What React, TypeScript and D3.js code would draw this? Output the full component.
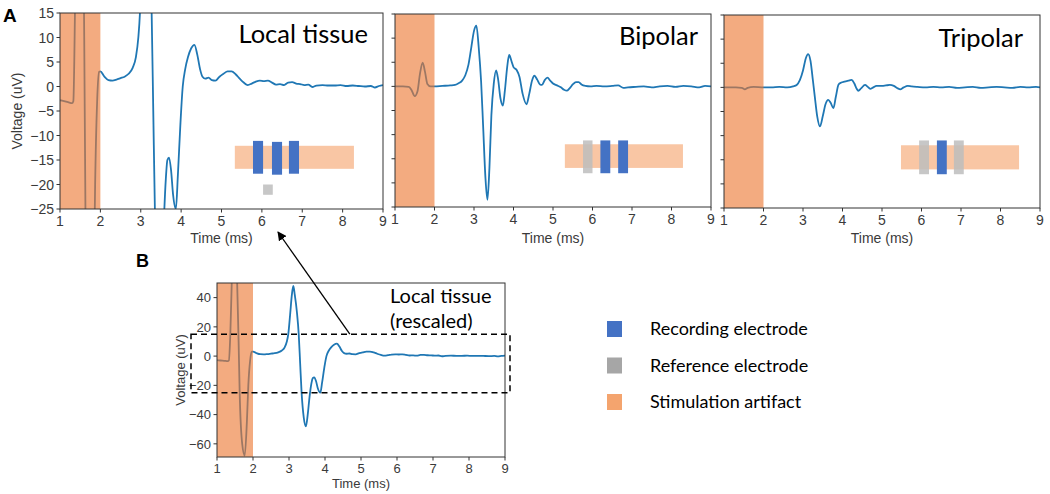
import React from "react";
import * as d3 from "d3";

// ---------- DATA ----------
const TIME_TICKS = [1, 2, 3, 4, 5, 6, 7, 8, 9];
const A_VOLT_TICKS = [-25, -20, -15, -10, -5, 0, 5, 10, 15];
const B_VOLT_TICKS = [-60, -40, -20, 0, 20, 40];
const ARTIFACT_WINDOW = [1, 2];
const ZOOM_BOX = [-25, 15];

const LOCAL_TISSUE: [number, number][] = [
  [1.0, -2.8], [1.1, -3.0], [1.2, -3.2], [1.3, -3.4], [1.33, -3.0], [1.37, 15], [1.42, 60],
  [1.48, 110], [1.55, 60], [1.6, 10], [1.63, -25], [1.7, -60], [1.77, -68], [1.83, -45],
  [1.87, -20], [1.92, -3], [1.97, 3.0], [2.0, 3.1], [2.1, 2.0], [2.2, 1.3], [2.3, 1.2],
  [2.4, 1.4], [2.5, 1.7], [2.6, 2.0], [2.7, 2.6], [2.8, 3.8], [2.88, 6], [2.94, 10],
  [2.98, 15], [3.03, 28], [3.08, 42], [3.12, 48], [3.16, 42], [3.22, 30], [3.27, 15],
  [3.31, -5], [3.35, -25], [3.41, -42], [3.47, -48], [3.52, -40], [3.57, -28], [3.62, -19],
  [3.66, -15], [3.7, -14.5], [3.75, -17], [3.8, -22], [3.87, -25], [3.92, -18], [3.98, -8],
  [4.04, 0], [4.1, 3.5], [4.17, 6.0], [4.25, 7.8], [4.33, 8.5], [4.4, 6.5], [4.47, 3.5],
  [4.53, 2.0], [4.6, 1.6], [4.68, 1.8], [4.76, 1.3], [4.85, 1.2], [4.95, 2.0], [5.05, 2.6],
  [5.15, 3.1], [5.25, 3.1], [5.35, 2.5], [5.45, 1.6], [5.55, 0.8], [5.65, 0.3], [5.75, 0.6],
  [5.85, 1.0], [5.95, 1.2], [6.05, 1.1], [6.15, 1.2], [6.25, 0.8], [6.35, 0.4], [6.45, 0.5],
  [6.55, 0.3], [6.65, 0.8], [6.75, 0.9], [6.85, 0.6], [6.95, 0.5], [7.05, 0.3], [7.15, 0.4],
  [7.25, -0.1], [7.35, 0.2], [7.5, 0.3], [7.65, 0.2], [7.8, 0.2], [7.95, 0.3], [8.1, 0.1],
  [8.25, 0.2], [8.4, 0.1], [8.55, 0.0], [8.7, 0.1], [8.8, -0.2], [8.9, 0.1], [9.0, 0.3],
];

const BIPOLAR: [number, number][] = [
  [1.0, 0], [1.2, 0], [1.35, -0.1], [1.42, -0.8], [1.5, -2.0], [1.57, -1.0], [1.63, 2.5],
  [1.7, 4.9], [1.76, 3.0], [1.82, 0.5], [1.9, 0], [2.0, 0], [2.2, 0.1], [2.4, 0.2],
  [2.52, 0.3], [2.6, 0.6], [2.7, 1.2], [2.78, 2.3], [2.86, 4.5], [2.93, 8], [3.0, 11.5],
  [3.06, 12.6], [3.12, 8], [3.18, 1], [3.23, -8], [3.29, -19], [3.34, -23.5], [3.39, -17],
  [3.44, -6], [3.5, 0.5], [3.56, 3.3], [3.61, 1.5], [3.67, -2.5], [3.73, -4.0], [3.78, -1],
  [3.84, 4], [3.89, 6.5], [3.95, 5.2], [4.0, 4.0], [4.08, 3.4], [4.15, 2.0], [4.23, -1.5],
  [4.33, -3.7], [4.4, -1.5], [4.47, 1.2], [4.53, 2.2], [4.6, 1.4], [4.67, 0.4], [4.72, 0.3],
  [4.79, 1.3], [4.86, 1.8], [4.93, 1.2], [5.0, 0.6], [5.1, 0.2], [5.2, -0.2], [5.28, -0.7],
  [5.35, -0.9], [5.42, -0.4], [5.5, 0.4], [5.58, 0.9], [5.65, 0.9], [5.72, 0.4], [5.82, 0.1],
  [5.95, 0], [6.1, 0.1], [6.3, 0], [6.5, 0.1], [6.65, 0.2], [6.78, -0.3], [6.9, -0.2],
  [7.1, -0.1], [7.3, 0], [7.5, -0.2], [7.7, 0], [7.9, 0.1], [8.1, -0.1], [8.3, 0.1],
  [8.5, 0], [8.7, -0.2], [8.85, 0.1], [9.0, 0],
];

const TRIPOLAR: [number, number][] = [
  [1.0, 0], [1.3, 0], [1.45, -0.1], [1.53, -0.4], [1.6, -0.1], [1.75, 0.1], [2.0, 0],
  [2.2, 0], [2.4, 0.1], [2.6, 0], [2.75, 0.2], [2.84, 0.5], [2.92, 1.5], [3.0, 3.5],
  [3.07, 6], [3.13, 6.9], [3.19, 5.5], [3.25, 1.5], [3.3, -2], [3.36, -6], [3.43, -8.1],
  [3.5, -6], [3.57, -3.5], [3.64, -2.6], [3.7, -3.2], [3.77, -4.3], [3.83, -2], [3.9, 0.6],
  [3.97, 1.0], [4.05, 1.2], [4.15, 1.4], [4.23, 1.55], [4.3, 0.8], [4.36, -0.3], [4.4, -0.7],
  [4.47, -0.2], [4.57, 0.5], [4.64, 0.1], [4.7, -0.3], [4.78, 0], [4.86, 0.3], [5.0, 0.3],
  [5.1, 0.4], [5.2, 0.5], [5.3, 0.3], [5.4, -0.2], [5.46, -0.4], [5.55, 0], [5.65, 0.3],
  [5.75, 0.2], [5.9, 0.1], [6.1, 0], [6.3, 0.1], [6.5, 0], [6.7, 0.1], [6.9, -0.1],
  [7.1, 0], [7.3, 0.1], [7.5, -0.1], [7.7, 0], [7.9, 0.1], [8.1, 0], [8.3, -0.1],
  [8.5, 0.1], [8.7, 0], [8.9, 0.1], [9.0, 0],
];

// electrode sketches, in each panel's own data units: [x0, x1, y0, y1]
type Elec = { x0: number; x1: number; y0: number; y1: number; kind: "rec" | "ref" };
const LOCAL_TISSUE_BAR = [5.33, 8.28, -12.1, -16.8];
const LOCAL_ELECTRODES: Elec[] = [
  { x0: 5.78, x1: 6.03, y0: -11.1, y1: -17.8, kind: "rec" },
  { x0: 6.25, x1: 6.5, y0: -11.3, y1: -18.0, kind: "rec" },
  { x0: 6.67, x1: 6.92, y0: -11.1, y1: -17.8, kind: "rec" },
  { x0: 6.03, x1: 6.27, y0: -20.0, y1: -22.1, kind: "ref" },
];
const BIPOLAR_TISSUE_BAR = [5.3, 8.29, -12.0, -16.9];
const BIPOLAR_ELECTRODES: Elec[] = [
  { x0: 5.76, x1: 6.0, y0: -11.2, y1: -18.0, kind: "ref" },
  { x0: 6.2, x1: 6.45, y0: -11.2, y1: -18.0, kind: "rec" },
  { x0: 6.65, x1: 6.9, y0: -11.2, y1: -18.0, kind: "rec" },
];
const TRIPOLAR_TISSUE_BAR = [5.48, 8.47, -12.0, -17.0];
const TRIPOLAR_ELECTRODES: Elec[] = [
  { x0: 5.94, x1: 6.19, y0: -11.0, y1: -18.0, kind: "ref" },
  { x0: 6.39, x1: 6.64, y0: -11.0, y1: -18.0, kind: "rec" },
  { x0: 6.82, x1: 7.07, y0: -11.0, y1: -18.0, kind: "ref" },
];

const LEGEND_LABELS = ["Recording electrode", "Reference electrode", "Stimulation artifact"];

// ---------- STYLE ----------
const BLUE = "#1f77b4";
const SHADE = "rgb(236,120,50)";
const SHADE_OP = 0.62;
const TISSUE = "#f9c6a4";
const REC = "#4472c4";
const REF = "#bdbdbd";
const AXIS = "#333";
const TICKTXT = "#3a3a3a";
const SANS = "'Liberation Sans', Arial, sans-serif";
const TITLEF = "Lato, 'Open Sans', sans-serif";

type PanelProps = {
  id: string;
  left: number;
  right: number;
  top: number;
  bottom: number;
  yDomain: [number, number];
  yTicks: number[];
  showYLabels: boolean;
  data: [number, number][];
  fs: number;
  ylabelX?: number;
  xlabelDy: number;
  tissue?: number[];
  electrodes?: Elec[];
  children?: (x: d3.ScaleLinear<number, number>, y: d3.ScaleLinear<number, number>) => React.ReactNode;
};

function Panel(p: PanelProps) {
  const x = d3.scaleLinear().domain([1, 9]).range([p.left, p.right]);
  const y = d3.scaleLinear().domain(p.yDomain).range([p.bottom, p.top]);
  const line = d3
    .line<[number, number]>()
    .x((d) => x(d[0]))
    .y((d) => y(d[1]))
    .curve(d3.curveMonotoneX);
  const clip = `clip-${p.id}`;
  const fmt = (v: number) => (v < 0 ? "\u2212" + Math.abs(v) : String(v));
  return (
    <g>
      <defs>
        <clipPath id={clip}>
          <rect x={p.left} y={p.top} width={p.right - p.left} height={p.bottom - p.top} />
        </clipPath>
      </defs>
      <g clipPath={`url(#${clip})`}>
        <path d={line(p.data) || ""} fill="none" stroke={BLUE} strokeWidth={1.8} />
        <rect
          x={x(ARTIFACT_WINDOW[0])}
          y={p.top}
          width={x(ARTIFACT_WINDOW[1]) - x(ARTIFACT_WINDOW[0])}
          height={p.bottom - p.top}
          fill={SHADE}
          opacity={SHADE_OP}
        />
        {p.tissue && (
          <rect
            x={x(p.tissue[0])}
            y={y(p.tissue[2])}
            width={x(p.tissue[1]) - x(p.tissue[0])}
            height={y(p.tissue[3]) - y(p.tissue[2])}
            fill={TISSUE}
          />
        )}
        {p.electrodes &&
          p.electrodes.map((e, i) => (
            <rect
              key={i}
              x={x(e.x0)}
              y={y(e.y0)}
              width={x(e.x1) - x(e.x0)}
              height={y(e.y1) - y(e.y0)}
              fill={e.kind === "rec" ? REC : REF}
              opacity={e.kind === "rec" ? 1 : 0.85}
            />
          ))}
      </g>
      <rect
        x={p.left}
        y={p.top}
        width={p.right - p.left}
        height={p.bottom - p.top}
        fill="none"
        stroke={AXIS}
        strokeWidth={1}
      />
      {TIME_TICKS.map((t) => (
        <g key={"x" + t}>
          <line x1={x(t)} x2={x(t)} y1={p.bottom} y2={p.bottom + 3.5} stroke={AXIS} />
          <text
            x={x(t)}
            y={p.bottom + p.fs + 3}
            textAnchor="middle"
            fontFamily={SANS}
            fontSize={p.fs}
            fill={TICKTXT}
          >
            {t}
          </text>
        </g>
      ))}
      {p.yTicks.map((v) => (
        <g key={"y" + v}>
          <line x1={p.left - 3.5} x2={p.left} y1={y(v)} y2={y(v)} stroke={AXIS} />
          {p.showYLabels && (
            <text
              x={p.left - 6}
              y={y(v)}
              dy="0.36em"
              textAnchor="end"
              fontFamily={SANS}
              fontSize={p.fs}
              fill={TICKTXT}
            >
              {fmt(v)}
            </text>
          )}
        </g>
      ))}
      <text
        x={(p.left + p.right) / 2}
        y={p.bottom + p.xlabelDy}
        textAnchor="middle"
        fontFamily={SANS}
        fontSize={p.fs}
        fill={TICKTXT}
      >
        Time (ms)
      </text>
      {p.ylabelX !== undefined && (
        <text
          transform={`translate(${p.ylabelX},${(p.top + p.bottom) / 2}) rotate(-90)`}
          textAnchor="middle"
          dy="0.35em"
          fontFamily={SANS}
          fontSize={p.fs}
          fill={TICKTXT}
        >
          Voltage (uV)
        </text>
      )}
      {p.children && p.children(x, y)}
    </g>
  );
}

export default function App() {
  const legendColors = [REC, "#a6a6a6", "#f4a46e"];
  return (
    <svg
      width={1050}
      height={494}
      style={{ position: "absolute", left: 0, top: 0, background: "#fff" }}
    >
      <defs>
        <marker id="arrowhead" viewBox="0 0 10 10" refX={9} refY={5} markerWidth={7} markerHeight={7} orient="auto">
          <path d="M0,0 L10,5 L0,10 z" fill="#000" />
        </marker>
      </defs>
      <rect width={1050} height={494} fill="#fff" />

      <Panel
        id="a1"
        left={60}
        right={383}
        top={13}
        bottom={209}
        yDomain={[-25, 15]}
        yTicks={A_VOLT_TICKS}
        showYLabels
        data={LOCAL_TISSUE}
        fs={14}
        ylabelX={17}
        xlabelDy={34}
        tissue={LOCAL_TISSUE_BAR}
        electrodes={LOCAL_ELECTRODES}
      />
      <Panel
        id="a2"
        left={395}
        right={711}
        top={14}
        bottom={207}
        yDomain={[-25, 15]}
        yTicks={A_VOLT_TICKS}
        showYLabels={false}
        data={BIPOLAR}
        fs={14}
        xlabelDy={36}
        tissue={BIPOLAR_TISSUE_BAR}
        electrodes={BIPOLAR_ELECTRODES}
      />
      <Panel
        id="a3"
        left={724}
        right={1040}
        top={15}
        bottom={208}
        yDomain={[-25, 15]}
        yTicks={A_VOLT_TICKS}
        showYLabels={false}
        data={TRIPOLAR}
        fs={14}
        xlabelDy={35}
        tissue={TRIPOLAR_TISSUE_BAR}
        electrodes={TRIPOLAR_ELECTRODES}
      />
      <Panel
        id="b"
        left={217}
        right={505}
        top={283}
        bottom={457}
        yDomain={[-69, 50]}
        yTicks={B_VOLT_TICKS}
        showYLabels
        data={LOCAL_TISSUE}
        fs={13}
        ylabelX={180}
        xlabelDy={31}
      >
        {(x, y) => (
          <g>
            <rect
              x={191}
              y={y(ZOOM_BOX[1])}
              width={510 - 191}
              height={y(ZOOM_BOX[0]) - y(ZOOM_BOX[1])}
              fill="none"
              stroke="#000"
              strokeWidth={1.5}
              strokeDasharray="6,4"
            />
            <line
              x1={x(4.69)}
              y1={y(ZOOM_BOX[1])}
              x2={278}
              y2={232}
              stroke="#000"
              strokeWidth={1.3}
              markerEnd="url(#arrowhead)"
            />
          </g>
        )}
      </Panel>

      {/* titles */}
      <text x={368} y={43} textAnchor="end" fontFamily={TITLEF} fontSize={25.5} fill="#000">
        Local tissue
      </text>
      <text x={698} y={45} textAnchor="end" fontFamily={TITLEF} fontSize={25.5} fill="#000">
        Bipolar
      </text>
      <text x={1023} y={47} textAnchor="end" fontFamily={TITLEF} fontSize={25.5} fill="#000">
        Tripolar
      </text>
      <text x={390} y={303} fontFamily={TITLEF} fontSize={20} fill="#000">
        Local tissue
      </text>
      <text x={390} y={328} fontFamily={TITLEF} fontSize={20} fill="#000">
        (rescaled)
      </text>

      {/* panel letters */}
      <text x={3} y={22} fontFamily={SANS} fontWeight="bold" fontSize={19} fill="#000">
        A
      </text>
      <text x={136} y={267} fontFamily={SANS} fontWeight="bold" fontSize={18} fill="#000">
        B
      </text>

      {/* legend */}
      {LEGEND_LABELS.map((label, i) => (
        <g key={label} transform={`translate(607,${321 + i * 36.5})`}>
          <rect width={15} height={16} fill={legendColors[i]} />
          <text x={43} y={8} dy="0.36em" fontFamily={TITLEF} fontSize={18} fill="#000">
            {label}
          </text>
        </g>
      ))}
    </svg>
  );
}
